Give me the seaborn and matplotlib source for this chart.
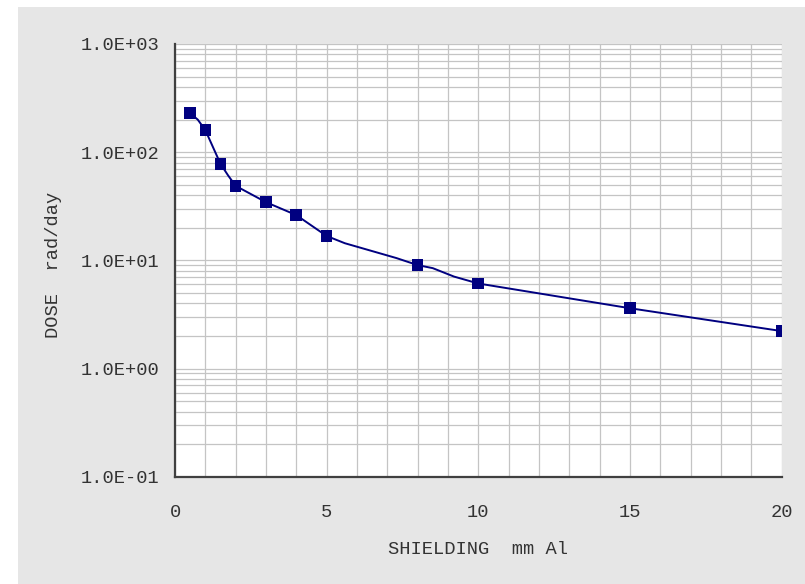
import matplotlib
matplotlib.use("Agg")
import matplotlib.pyplot as plt
import matplotlib.ticker as mticker
from matplotlib.patches import Rectangle
import seaborn as sns

# marker points (mm Al, rad/day)
shield_mm = [0.5, 1, 1.5, 2, 3, 4, 5, 8, 10, 15, 20]
dose = [229, 160, 78, 48.8, 34.5, 26.2, 16.8, 9.04, 6.11, 3.61, 2.22]

# the drawn curve has a few more points than the markers
curve_mm = [0.5, 0.75, 1, 1.5, 1.75, 2, 3, 4, 5, 5.6, 7.3, 8, 8.5, 9.2, 10, 15, 20]
curve_dose = [229, 200, 160, 78, 61, 48.8, 34.5, 26.2, 16.8, 14.4, 10.5, 9.04,
              8.47, 7.08, 6.11, 3.61, 2.22]

x_ticks = [0, 5, 10, 15, 20]
y_ticks = [0.1, 1, 10, 100, 1000]

sns.set_style("white")
plt.rcParams['font.family'] = ['Liberation Mono', 'DejaVu Sans Mono']

W, H = 805, 584
fig = plt.figure(figsize=(W / 100, H / 100), dpi=100, facecolor='white')
fig.patches.append(Rectangle((18 / W, 0), 1 - 18 / W, (H - 7) / H,
                             transform=fig.transFigure, facecolor='#e6e6e6',
                             edgecolor='none', zorder=-10))

left, right, top, bottom = 175, 781.5, 44, 476.7
ax = fig.add_axes([left / W, 1 - bottom / H, (right - left) / W, (bottom - top) / H])
ax.set_facecolor('white')

sns.lineplot(x=curve_mm, y=curve_dose, ax=ax, color='#000080', linewidth=1.4,
             sort=False, zorder=3)
sns.scatterplot(x=shield_mm, y=dose, ax=ax, marker='s', s=70, color='#000080',
                edgecolor='none', zorder=4)

ax.set_yscale('log')
ax.set_xlim(0, 20)
ax.set_ylim(0.1, 1000)
ax.set_xticks(x_ticks)
ax.set_xticks(range(0, 21), minor=True)
ax.set_yticks(y_ticks)
ax.yaxis.set_major_formatter(mticker.FuncFormatter(lambda v, p: f"{v:.1E}"))
ax.yaxis.set_minor_locator(mticker.LogLocator(base=10, subs=range(2, 10)))
ax.yaxis.set_minor_formatter(mticker.NullFormatter())

ax.grid(True, which='both', color='#c4c4c4', linewidth=0.9)
ax.set_axisbelow(True)

for s in ['top', 'right']:
    ax.spines[s].set_visible(False)
for s in ['left', 'bottom']:
    ax.spines[s].set_color('#404040')
    ax.spines[s].set_linewidth(1.6)

ax.tick_params(axis='both', which='major', direction='out', length=4.5,
               width=1.2, color='#404040', labelsize=13.5, labelcolor='#333333')
ax.tick_params(axis='y', which='major', pad=7)
ax.tick_params(axis='x', which='major', pad=15)
ax.tick_params(which='minor', length=0)

ax.set_xlabel('SHIELDING  mm Al', fontsize=13.5, color='#333333')
ax.set_ylabel('DOSE  rad/day', fontsize=13.5, color='#333333')
ax.xaxis.set_label_coords(0.5, -0.1486)
ax.yaxis.set_label_coords(-0.1863, 0.49)

fig.savefig('out.png', dpi=100, facecolor=fig.get_facecolor())
